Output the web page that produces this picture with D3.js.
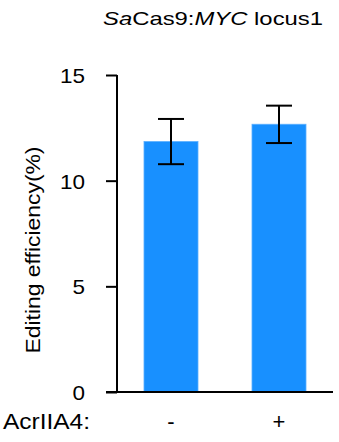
<!DOCTYPE html>
<html><head><meta charset="utf-8">
<script src="https://cdn.jsdelivr.net/npm/d3@7"></script>
<style>body{margin:0;background:#fff}svg{display:block}text{font-family:"Liberation Sans",Arial,sans-serif;fill:#000}</style>
</head><body>
<svg id="c" width="339" height="442"></svg>
<script>
const categories = ["-", "+"];
const means = [11.85, 12.67];
const errHigh = [12.92, 13.55];
const errLow = [10.78, 11.78];
const yTicks = [0, 5, 10, 15];

const svg = d3.select("#c");
const x = d3.scaleBand().domain(categories).range([117, 333]).paddingInner(0.5).paddingOuter(0.25);
const y = d3.scaleLinear().domain([0, 15]).range([392, 75]);

// bars
svg.selectAll("rect.bar").data(categories).join("rect")
  .attr("x", d => x(d)).attr("width", x.bandwidth())
  .attr("y", (d,i) => y(means[i])).attr("height", (d,i) => y(0) - y(means[i]))
  .attr("fill", "#1890ff").attr("stroke", "#5aaeff").attr("stroke-width", 0.8);

// error bars
const cap = 13;
const g = svg.append("g").attr("stroke", "#000").attr("stroke-width", 2);
categories.forEach((d, i) => {
  const cx = x(d) + x.bandwidth() / 2;
  g.append("line").attr("x1", cx).attr("x2", cx).attr("y1", y(errLow[i])).attr("y2", y(errHigh[i]));
  g.append("line").attr("x1", cx - cap).attr("x2", cx + cap).attr("y1", y(errLow[i])).attr("y2", y(errLow[i]));
  g.append("line").attr("x1", cx - cap).attr("x2", cx + cap).attr("y1", y(errHigh[i])).attr("y2", y(errHigh[i]));
});

// y axis
const ya = svg.append("g").attr("transform", "translate(117,0)")
  .call(d3.axisLeft(y).tickValues(yTicks).tickSize(11).tickPadding(21));
ya.select(".domain").remove();
ya.append("line").attr("x1", 0).attr("x2", 0).attr("y1", y(15)).attr("y2", y(0)).attr("stroke", "#000").attr("stroke-width", 2);
ya.selectAll(".tick line").attr("stroke", "#000").attr("stroke-width", 2);
ya.selectAll(".tick text").attr("font-size", 21).attr("font-family", '"Liberation Sans",Arial,sans-serif').attr("fill", "#000")
  .attr("dy", "0.36em")
  .attr("textLength", d => String(d).length * 12.5).attr("lengthAdjust", "spacingAndGlyphs");

// x axis line
svg.append("line").attr("x1", 106).attr("x2", 333).attr("y1", y(0)).attr("y2", y(0)).attr("stroke", "#000").attr("stroke-width", 2);

// x labels
svg.selectAll("text.xl").data(categories).join("text")
  .attr("x", d => x(d) + x.bandwidth() / 2).attr("y", 429)
  .attr("text-anchor", "middle").attr("font-size", 22).text(d => d);
svg.append("text").attr("x", 3).attr("y", 429).attr("font-size", 22)
  .attr("textLength", 87).attr("lengthAdjust", "spacingAndGlyphs").text("AcrIIA4:");

// y label
svg.append("text").attr("transform", "translate(40,250) rotate(-90)")
  .attr("text-anchor", "middle").attr("font-size", 20)
  .attr("textLength", 207).attr("lengthAdjust", "spacingAndGlyphs").text("Editing efficiency(%)");

// title
const t = svg.append("text").attr("x", 103).attr("y", 25).attr("font-size", 19)
  .attr("textLength", 220).attr("lengthAdjust", "spacingAndGlyphs");
t.append("tspan").attr("font-style", "italic").text("Sa");
t.append("tspan").text("Cas9:");
t.append("tspan").attr("font-style", "italic").text("MYC");
t.append("tspan").text(" locus1");
</script>
</body></html>
